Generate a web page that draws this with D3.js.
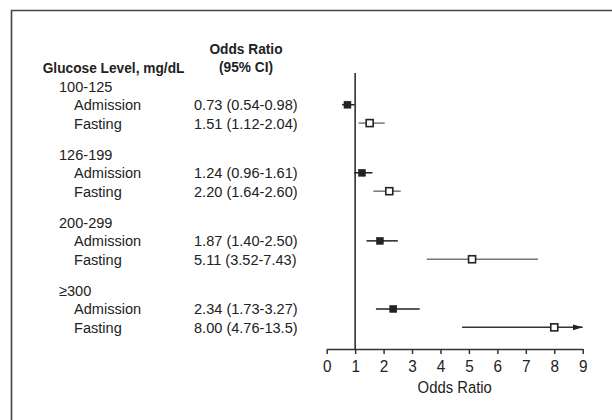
<!DOCTYPE html>
<html>
<head>
<meta charset="utf-8">
<script src="https://cdn.jsdelivr.net/npm/d3@7"></script>
<style>
body { margin: 0; background: #fff; }
text { font-family: "Liberation Sans", Arial, sans-serif; fill: #222; }
</style>
</head>
<body>
<script>
// data
var groups = ["100-125", "126-199", "200-299", "\u2265300"];
var types = ["Admission", "Fasting"];
var orVals = [[0.73, 1.51], [1.24, 2.20], [1.87, 5.11], [2.34, 8.00]];
var loVals = [[0.54, 1.12], [0.96, 1.64], [1.40, 3.52], [1.73, 4.76]];
var hiVals = [[0.98, 2.04], [1.61, 2.60], [2.50, 7.43], [3.27, 13.5]];
var orLabels = [["0.73 (0.54-0.98)", "1.51 (1.12-2.04)"],
                ["1.24 (0.96-1.61)", "2.20 (1.64-2.60)"],
                ["1.87 (1.40-2.50)", "5.11 (3.52-7.43)"],
                ["2.34 (1.73-3.27)", "8.00 (4.76-13.5)"]];
var xTicks = [0, 1, 2, 3, 4, 5, 6, 7, 8, 9];

var svg = d3.select("body").append("svg")
    .attr("width", 612)
    .attr("height", 420);

// condensed look: squeeze the text horizontally
function label(px, py, str, opts) {
    opts = opts || {};
    var t = svg.append("text")
        .attr("transform", "translate(" + px + "," + py + ") scale(" + (opts.sx || 0.94) + ",1)")
        .attr("dy", "0.35em")
        .attr("font-size", opts.size || 15.5)
        .text(str);
    if (opts.bold) t.attr("font-weight", "bold");
    if (opts.anchor) t.attr("text-anchor", opts.anchor);
    return t;
}

// frame (runs off the right and bottom edges)
svg.append("path")
    .attr("d", "M11.5,430V10.5H620")
    .attr("fill", "none")
    .attr("stroke", "#444")
    .attr("stroke-width", 1.6);

var x = d3.scaleLinear().domain([0, 9]).range([326.7, 582.7]);
var y = d3.scaleLinear().domain([0, 1]).range([86.3, 104.7]);
var groupStep = 3.7;

var rows = [];
groups.forEach(function(g, gi) {
    types.forEach(function(t, ti) {
        rows.push({group: gi, type: ti, slot: gi * groupStep + 1 + ti,
                   or: orVals[gi][ti], lo: loVals[gi][ti], hi: hiVals[gi][ti],
                   label: orLabels[gi][ti], name: t});
    });
});

// headers
label(42.7, 68, "Glucose Level, mg/dL", {bold: true, sx: 0.885});
label(246, 49, "Odds Ratio", {bold: true, sx: 0.885, anchor: "middle"});
label(246, 67, "(95% CI)", {bold: true, sx: 0.885, anchor: "middle"});

groups.forEach(function(g, gi) {
    label(59, y(gi * groupStep), g);
});
rows.forEach(function(d) {
    label(74, y(d.slot), d.name);
    label(194, y(d.slot), d.label);
});

// axis
var axis = svg.append("g")
    .attr("transform", "translate(0,349)")
    .call(d3.axisBottom(x).tickValues(xTicks).tickSize(5).tickSizeOuter(0).tickFormat(d3.format("d")));
axis.attr("font-family", null).attr("font-size", null);
axis.select(".domain").attr("stroke", "#333").attr("stroke-width", 1.5);
axis.selectAll(".tick line").attr("stroke", "#333").attr("stroke-width", 1.5);
axis.selectAll(".tick text")
    .attr("y", 0)
    .attr("transform", "translate(0,17) scale(0.9,1)")
    .attr("font-size", 17)
    .style("fill", "#222")
    .attr("dy", "0.35em");

label(x(4.5), 387, "Odds Ratio", {size: 16.5, sx: 0.9, anchor: "middle"});

// reference line at OR = 1
svg.append("line")
    .attr("x1", x(1)).attr("x2", x(1))
    .attr("y1", 73).attr("y2", 349)
    .attr("stroke", "#222").attr("stroke-width", 1.5);

svg.append("defs").append("marker")
    .attr("id", "arrow")
    .attr("viewBox", "0 0 10 6")
    .attr("refX", 10).attr("refY", 3)
    .attr("markerWidth", 10).attr("markerHeight", 6)
    .attr("markerUnits", "userSpaceOnUse")
    .attr("orient", "auto")
    .append("path").attr("d", "M0,0L10,3L0,6Z").attr("fill", "#222");

// CI lines
svg.selectAll(".ci").data(rows).enter().append("line")
    .attr("class", "ci")
    .attr("x1", function(d) { return x(d.lo); })
    .attr("x2", function(d) { return x(Math.min(d.hi, 9)); })
    .attr("y1", function(d) { return y(d.slot); })
    .attr("y2", function(d) { return y(d.slot); })
    .attr("stroke", function(d) { return d.hi > 9 ? "#333" : (d.type === 0 ? "#222" : "#777"); })
    .attr("stroke-width", 1.5)
    .attr("marker-end", function(d) { return d.hi > 9 ? "url(#arrow)" : null; });

// point estimates
svg.selectAll(".pt").data(rows).enter().append("rect")
    .attr("class", "pt")
    .attr("x", function(d) { return x(d.or) - 3.5; })
    .attr("y", function(d) { return y(d.slot) - 3.5; })
    .attr("width", 7).attr("height", 7)
    .attr("fill", function(d) { return d.type === 0 ? "#222" : "#fff"; })
    .attr("stroke", "#222")
    .attr("stroke-width", function(d) { return d.type === 0 ? 0.5 : 1.6; });
</script>
</body>
</html>
